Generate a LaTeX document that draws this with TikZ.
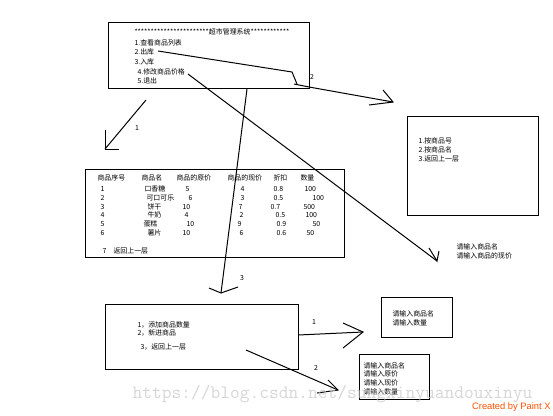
\documentclass[tikz,border=0pt]{standalone}
\usepackage{fontspec}
\setmainfont{Noto Sans CJK SC}
\newfontfamily\paintfont{Liberation Sans}
\usetikzlibrary{positioning}

\tikzset{every picture/.style={line width=0.75pt}}
\tikzset{
  txt/.style={anchor=west,inner sep=0pt,font=\fontsize{5.2}{6}\selectfont},
  lbl/.style={anchor=center,inner sep=0pt,font=\fontsize{5.2}{6}\selectfont},
  shaft/.style={line width=0.75pt},
  barb/.style={line width=0.75pt}
}

\begin{document}
\begin{tikzpicture}[x=0.75pt,y=0.75pt,yscale=-1,xscale=1]
\useasboundingbox (0,0) rectangle (553,415);

%Shape: Rectangle [id:main menu]
\draw   (108,22) rectangle (309,88) ;
%Shape: Rectangle [id:search menu]
\draw   (407,116) rectangle (538,215) ;
%Shape: Rectangle [id:goods table]
\draw   (85,169) rectangle (344,257) ;
%Shape: Rectangle [id:stock in menu]
\draw   (105,304) rectangle (298,369) ;
%Shape: Rectangle [id:add amount]
\draw   (381,297) rectangle (452,337) ;
%Shape: Rectangle [id:new goods]
\draw   (359,354) rectangle (429,399) ;

% Text Node
\node [txt] (menuTitle) at (134,32) {***********************超市管理系统************};
% Text Node
\node [txt] (menuList) at (134,43) {1.查看商品列表};
% Text Node
\node [txt] (menuOut) at (134,52) {2.出库};
% Text Node
\node [txt] (menuIn) at (134,62) {3.入库};
% Text Node
\node [txt] (menuPrice) at (137,72) {4.修改商品价格};
% Text Node
\node [txt] (menuQuit) at (137,81) {5.退出};

% Text Node
\node [txt] (byNo) at (418,141) {1.按商品号};
% Text Node
\node [txt] (byName) at (418,150) {2.按商品名};
% Text Node
\node [txt] (searchBack) at (418,159) {3.返回上一层};

% Text Node
\node [txt] (hdNo) at (97,178) {商品序号};
\node [txt] (hdName) at (141,178) {商品名};
\node [txt] (hdOld) at (176,178) {商品的原价};
\node [txt] (hdNew) at (227,178) {商品的现价};
\node [txt] (hdOff) at (273,178) {折扣};
\node [txt] (hdNum) at (300,178) {数量};
% Text Node
\node [txt] (aNo) at (100,189) {1};
\node [txt] (aName) at (144,189) {口香糖};
\node [txt] (aOld) at (185,189) {5};
\node [txt] (aNew) at (240,189) {4};
\node [txt] (aOff) at (273,189) {0.8};
\node [txt] (aNum) at (304,189) {100};
% Text Node
\node [txt] (bNo) at (100,198) {2};
\node [txt] (bName) at (146,198) {可口可乐};
\node [txt] (bOld) at (188,198) {6};
\node [txt] (bNew) at (240,198) {3};
\node [txt] (bOff) at (273,198) {0.5};
\node [txt] (bNum) at (312,198) {100};
% Text Node
\node [txt] (cNo) at (100,207) {3};
\node [txt] (cName) at (147,207) {饼干};
\node [txt] (cOld) at (182,207) {10};
\node [txt] (cNew) at (238,207) {7};
\node [txt] (cOff) at (270,207) {0.7};
\node [txt] (cNum) at (303,207) {500};
% Text Node
\node [txt] (dNo) at (100,215) {4};
\node [txt] (dName) at (147,215) {牛奶};
\node [txt] (dOld) at (184,215) {4};
\node [txt] (dNew) at (239,215) {2};
\node [txt] (dOff) at (275,215) {0.5};
\node [txt] (dNum) at (305,215) {100};
% Text Node
\node [txt] (eNo) at (100,224) {5};
\node [txt] (eName) at (143,224) {蛋糕};
\node [txt] (eOld) at (186,224) {10};
\node [txt] (eNew) at (237,224) {9};
\node [txt] (eOff) at (276,224) {0.9};
\node [txt] (eNum) at (312,224) {50};
% Text Node
\node [txt] (fNo) at (100,233) {6};
\node [txt] (fName) at (147,233) {薯片};
\node [txt] (fOld) at (182,233) {10};
\node [txt] (fNew) at (239,233) {6};
\node [txt] (fOff) at (276,233) {0.6};
\node [txt] (fNum) at (306,233) {50};
% Text Node
\node [txt] (gNo) at (102,251) {7};
\node [txt] (gBack) at (113,251) {返回上一层};

% Text Node
\node [txt] (askName) at (456,247) {请输入商品名};
% Text Node
\node [txt] (askNew) at (456,256) {请输入商品的现价};

% Text Node
\node [txt] (inAdd) at (137,325) {1，添加商品数量};
% Text Node
\node [txt] (inNew) at (137,333) {2，新进商品};
% Text Node
\node [txt] (inBack) at (140,347) {3，返回上一层};

% Text Node
\node [txt] (addName) at (392,314) {请输入商品名};
% Text Node
\node [txt] (addNum) at (392,323) {请输入数量};

% Text Node
\node [txt] (newName) at (363,366) {请输入商品名};
\node [txt] (newOld) at (363,374) {请输入原价};
\node [txt] (newNew) at (363,383) {请输入现价};
\node [txt] (newNum) at (363,392) {请输入数量};

%Arrow ends
\coordinate (outA) at (158,51) ;
\coordinate (outB) at (292,72) ;
\coordinate (outC) at (297,84) ;
\coordinate (outD) at (294,84) ;
\coordinate (outCorner) at (309,87) ;
\coordinate (outTip) at (393,102) ;
\coordinate (listStart) at (146,100) ;
\coordinate (listTip) at (105,149) ;
\coordinate (priceStart) at (188,74) ;
\coordinate (priceTip) at (437,261) ;
\coordinate (inStart) at (247,89) ;
\coordinate (inTip) at (221,293) ;
\coordinate (addStart) at (298,335) ;
\coordinate (addTip) at (363,332) ;
\coordinate (newStart) at (246,350) ;
\coordinate (newTip) at (338,390) ;

%Straight Lines [id:out]
\draw [shaft]  (outA) -- (outB) -- (outC) ;
\draw [shaft]  (outD) -- (outCorner) -- (outTip) ;
\draw [barb]  (383,90) -- (outTip) -- (369,105) ;
%Straight Lines [id:list]
\draw [shaft]  (listStart) -- (listTip) ;
\draw [barb]  (105,130) -- (listTip) -- (119,149) ;
%Straight Lines [id:price]
\draw [shaft]  (priceStart) -- (priceTip) ;
\draw [barb]  (429,248) -- (priceTip) -- (439,251) ;
%Straight Lines [id:in]
\draw [shaft]  (inStart) -- (inTip) ;
\draw [barb]  (209,288) -- (inTip) -- (238,287) ;
%Straight Lines [id:add]
\draw [shaft]  (addStart) -- (addTip) ;
\draw [barb]  (343,323) -- (addTip) -- (343,348) ;
%Straight Lines [id:new]
\draw [shaft]  (newStart) -- (newTip) ;
\draw [barb]  (328,380) -- (newTip) -- (317,393) ;

% Text Node
\node [lbl] (numOut) at (312,77) {2};
\node [lbl] (numList) at (137,128) {1};
\node [lbl] (numIn) at (242,278) {3};
\node [lbl] (numAdd) at (314,322) {1};
\node [lbl] (numNew) at (316,368) {2};

% Text Node
\node [anchor=west,inner sep=0pt,font=\fontsize{14.2}{16}\ttfamily,color={rgb, 255:red, 200; green, 200; blue, 200 },opacity=0.75] (mark) at (132,394) {https://blog.csdn.net/sungxinyuandouxinyu};
% Text Node
\node [anchor=east,inner sep=0pt,font=\fontsize{7}{8}\paintfont,color={rgb, 255:red, 255; green, 80; blue, 0 }] (paintx) at (551,407) {Created by Paint X};

\end{tikzpicture}
\end{document}
